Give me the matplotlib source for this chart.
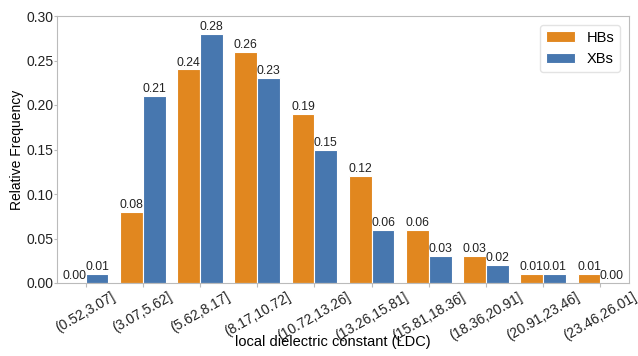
import matplotlib
matplotlib.use("Agg")
import matplotlib.pyplot as plt
import numpy as np

categories = ["(0.52,3.07]", "(3.07,5.62]", "(5.62,8.17]", "(8.17,10.72]", "(10.72,13.26]",
              "(13.26,15.81]", "(15.81,18.36]", "(18.36,20.91]", "(20.91,23.46]", "(23.46,26.01]"]
hbs = [0.00, 0.08, 0.24, 0.26, 0.19, 0.12, 0.06, 0.03, 0.01, 0.01]
xbs = [0.01, 0.21, 0.28, 0.23, 0.15, 0.06, 0.03, 0.02, 0.01, 0.00]
series_names = ["HBs", "XBs"]
colors = ["#E1871F", "#4777AF"]

plt.rcParams['font.family'] = ['Liberation Sans', 'DejaVu Sans']

fig = plt.figure(figsize=(6.38, 3.56), dpi=100)
ax = fig.add_axes([57/638, 1-283/356, (629-57)/638, (283-16)/356])

x = np.arange(len(categories))
w = 0.4
for vals, off, c, name in [(hbs, -w/2, colors[0], series_names[0]), (xbs, w/2, colors[1], series_names[1])]:
    bars = ax.bar(x + off, vals, width=w, color=c, edgecolor="white", linewidth=0.8, label=name)
    for b, v in zip(bars, vals):
        ax.text(b.get_x() + b.get_width()/2, v + 0.001, f"{v:.2f}", ha="center", va="bottom",
                fontsize=8.8, color="#222222")

ax.set_xlim(-0.5, 9.5)
ax.set_ylim(0, 0.30)
yt = np.arange(0, 0.31, 0.05)
ax.set_yticks(yt)
ax.set_yticklabels([f"{t:.2f}" for t in yt], fontsize=10)
ax.set_xticks(x)
ax.set_xticklabels(categories, rotation=30, ha="center", fontsize=10)
ax.set_ylabel("Relative Frequency", fontsize=10, labelpad=1.5)
ax.set_xlabel("local dielectric constant (LDC)", fontsize=10.5)
ax.xaxis.set_label_coords((332.5 - 57) / 572, (283 - 335) / 267)
for s in ax.spines.values():
    s.set_color("#BBBBBB")
ax.tick_params(axis="y", colors="#222222", length=2, color="#BBBBBB", pad=0.5)
ax.tick_params(axis="x", colors="#222222", length=3, color="#BBBBBB", pad=2)
leg = ax.legend(loc="upper right", fontsize=10.5, frameon=True, fancybox=True, edgecolor="#DDDDDD",
                borderaxespad=0.6)

fig.savefig("out.png", dpi=100)
